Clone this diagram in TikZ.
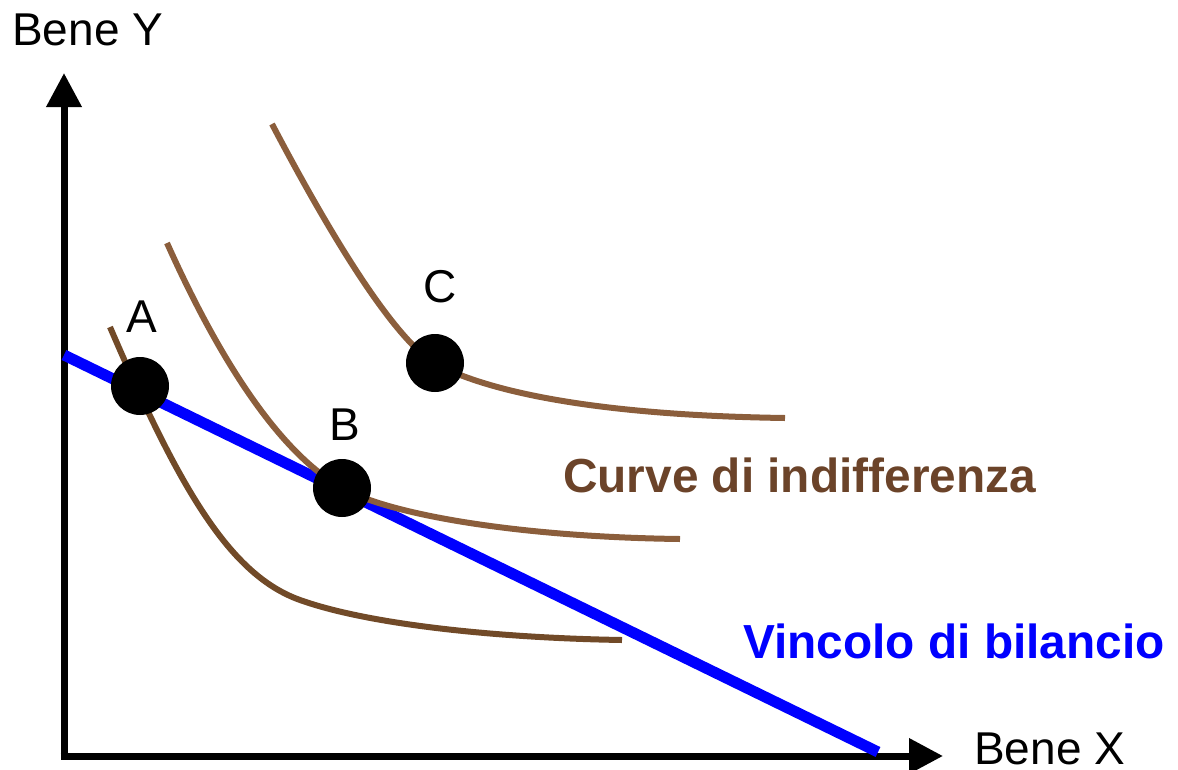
\documentclass[tikz,border=0pt]{standalone}
\usepackage{fontspec}
\setmainfont{Liberation Sans}
\usetikzlibrary{arrows.meta}
\definecolor{brownA}{HTML}{714A28}
\definecolor{brownB}{HTML}{8B5E3C}
\definecolor{brownT}{HTML}{6B4329}
\definecolor{blueL}{HTML}{0000FF}
\begin{document}
\begin{tikzpicture}[x=1pt,y=-1pt,
  axis/.style={line width=7pt,-{Triangle[length=34pt,width=34pt]}},
  icurve/.style={line width=6pt},
  dot/.style={circle,fill=black,minimum size=58pt,inner sep=0pt},
  lbl/.style={inner sep=0pt,font=\fontsize{46}{50}\selectfont},
  blbl/.style={inner sep=0pt,font=\fontsize{47.8}{52}\selectfont\bfseries}]
\useasboundingbox (0,0) rectangle (1178,769);
% axes
\coordinate (O) at (64,756);
\coordinate (ytip) at (64,73);
\coordinate (xtip) at (943,756);
\draw[axis] (O) -- (ytip);
\draw[axis] ([xshift=-3.5pt]O) -- (xtip);
% budget line
\coordinate (b1) at (64,355);
\coordinate (b2) at (878,752);
\draw[blueL,line width=11pt] (b1) -- (b2);
% indifference curves
\draw[icurve,brownA] (110,327) .. controls (180,490) and (230,575) .. (300,600)
  .. controls (370,625) and (500,638) .. (622,640);
\draw[icurve,brownB] (167,243) .. controls (215,350) and (275,450) .. (342,488)
  .. controls (390,515) and (520,537) .. (680,539);
\draw[icurve,brownB] (272,124) .. controls (325,225) and (390,335) .. (434,363)
  .. controls (480,388) and (580,415) .. (785,418);
% points
\node[dot] (A) at (140,386) {};
\node[dot] (B) at (342,488) {};
\node[dot] (C) at (435,363) {};
\node[lbl,anchor=base] (Alab) at (142,332) {A};
\node[lbl,anchor=base] (Blab) at (345,440) {B};
\node[lbl,anchor=base] (Clab) at (440,302) {C};
% axis labels
\node[lbl,anchor=base west] (ylab) at (12,45) {Bene Y};
\node[lbl,anchor=base west] (xlab) at (974,764) {Bene X};
\node[blbl,anchor=base west,text=brownT] (clab) at (563,492) {Curve di indifferenza};
\node[blbl,anchor=base west,text=blueL] (vlab) at (743,658) {Vincolo di bilancio};
\end{tikzpicture}
\end{document}
